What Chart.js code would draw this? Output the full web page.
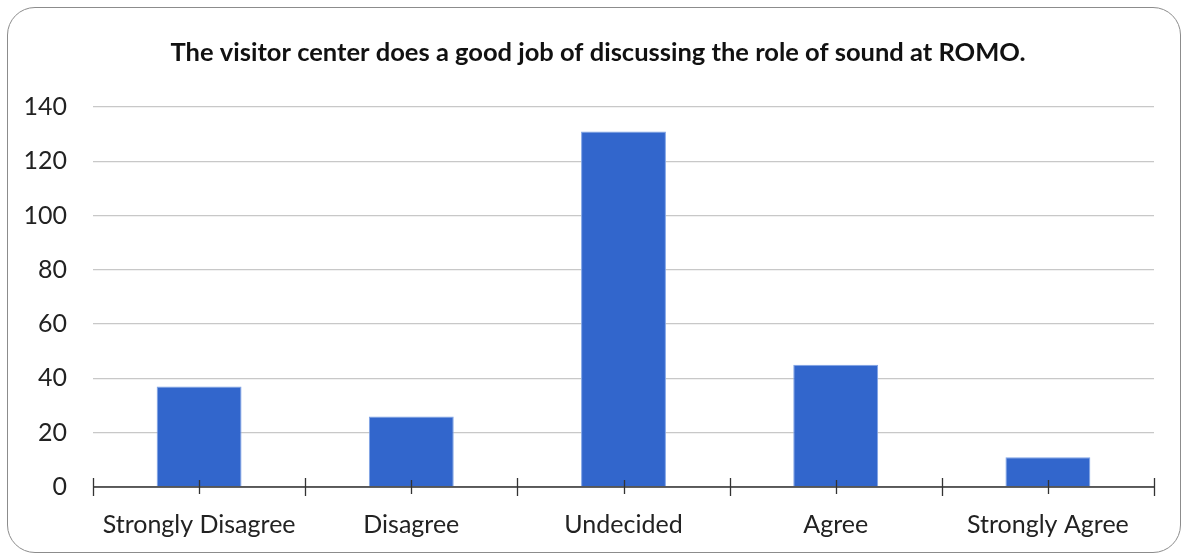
<!DOCTYPE html>
<html>
<head>
<meta charset="utf-8">
<script src="https://cdn.jsdelivr.net/npm/chart.js@4"></script>
<style>
  html, body { margin: 0; padding: 0; background: #fff; }
  #wrap { position: relative; width: 1184px; height: 556px; }
  #frame {
    position: absolute; left: 7px; top: 7px; width: 1172px; height: 544px;
    border: 1.5px solid #8c8c8c; border-radius: 28px; pointer-events: none;
  }
  canvas { position: absolute; left: 0; top: 0; }
</style>
</head>
<body>
<div id="wrap">
  <canvas id="grafico" width="1184" height="556"></canvas>
  <div id="frame"></div>
</div>
<script>
// survey responses
const categorias = ["Strongly Disagree", "Disagree", "Undecided", "Agree", "Strongly Agree"];
const respuestas = [37, 26, 131, 45, 11];
const titulo = "The visitor center does a good job of discussing the role of sound at ROMO.";
const yMax = 140;
const yPaso = 20;

const FUENTE = "Lato, 'Noto Sans', sans-serif";

// title, centered over the whole frame rather than the plot
const tituloCentrado = {
  id: "tituloCentrado",
  afterDraw(chart, args, opts) {
    const ctx = chart.ctx;
    ctx.save();
    ctx.font = "bold 25.5px " + FUENTE;
    ctx.fillStyle = "#111";
    ctx.textAlign = "center";
    ctx.textBaseline = "middle";
    ctx.fillText(titulo, opts.x, opts.y);
    ctx.restore();
  }
};

// tick marks on the x axis, at category edges and centers
const marcasX = {
  id: "marcasX",
  afterDraw(chart) {
    const x = chart.scales.x;
    const y0 = chart.scales.y.getPixelForValue(0);
    const ctx = chart.ctx;
    const ancho = x.width / categorias.length;
    ctx.save();
    ctx.strokeStyle = "#333";
    ctx.lineWidth = 1.3;
    ctx.beginPath();
    ctx.moveTo(x.left, y0);
    ctx.lineTo(x.right, y0);
    for (let i = 0; i <= categorias.length; i++) {
      const px = Math.round(x.left + i * ancho) + 0.5;
      ctx.moveTo(px, y0 - 9);
      ctx.lineTo(px, y0 + 9);
    }
    categorias.forEach((c, i) => {
      const px = Math.round(x.getPixelForValue(i)) + 0.5;
      ctx.moveTo(px, y0 - 7);
      ctx.lineTo(px, y0 + 7);
    });
    ctx.stroke();
    ctx.restore();
  }
};

new Chart(document.getElementById("grafico"), {
  type: "bar",
  data: {
    labels: categorias,
    datasets: [{
      data: respuestas,
      backgroundColor: "#3266CC",
      borderColor: "#7FA3E6",
      borderWidth: 1,
      categoryPercentage: 1,
      barPercentage: 0.4
    }]
  },
  options: {
    responsive: false,
    animation: false,
    devicePixelRatio: 1,
    layout: { padding: { left: 0, right: 30, top: 107, bottom: 0 } },
    plugins: {
      legend: { display: false },
      tooltip: { enabled: false },
      title: { display: false },
      tituloCentrado: { x: 598, y: 53 }
    },
    scales: {
      x: {
        grid: { display: false },
        border: { display: false },
        ticks: {
          color: "#222",
          font: { family: FUENTE, size: 25 },
          padding: 15,
          maxRotation: 0
        },
        afterFit: (s) => { s.height = 69; }
      },
      y: {
        min: 0,
        max: yMax,
        grid: { color: "#c8c8c8", lineWidth: 1.3, drawTicks: false },
        border: { display: false },
        ticks: {
          stepSize: yPaso,
          color: "#222",
          font: { family: FUENTE, size: 25 },
          padding: 26
        },
        afterFit: (s) => { s.width = 93; }
      }
    }
  },
  plugins: [marcasX, tituloCentrado]
});
</script>
</body>
</html>
